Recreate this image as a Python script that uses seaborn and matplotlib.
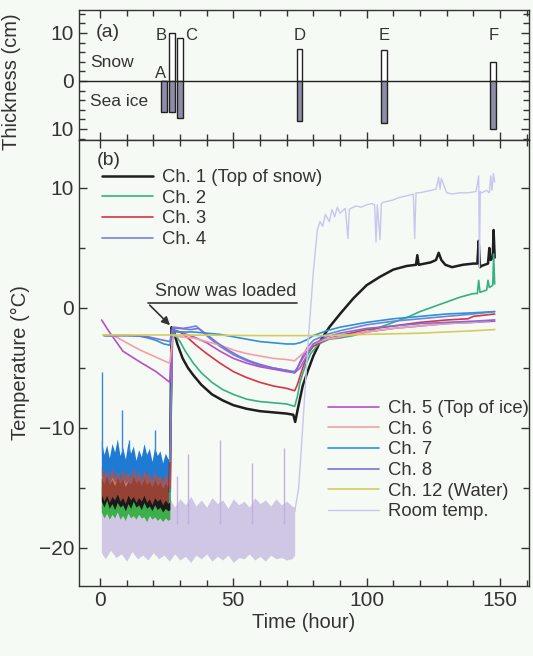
import numpy as np
import pandas as pd
import matplotlib
matplotlib.use('Agg')
import matplotlib.pyplot as plt
from matplotlib.ticker import MultipleLocator, FixedLocator
import seaborn as sns

# ---------------- data ----------------
# (a) snow / sea ice thickness at sampling times
site_names = ['A', 'B', 'C', 'D', 'E', 'F']
site_time = [24.0, 27.0, 30.0, 74.8, 106.5, 147.5]
snow_cm = [0.0, 10.0, 8.9, 6.7, 6.5, 4.0]
ice_cm = [6.4, 6.4, 7.8, 8.4, 8.7, 10.0]
site_label_x = [22.6, 23.0, 34.0, 74.8, 106.5, 147.5]
site_label_y = [1.6, 9.4, 9.4, 9.4, 9.4, 9.4]

# (b) temperatures (hour, degC)
ch1_t = [26.2, 26.8, 27.5, 29, 31, 33, 35, 38, 42, 46, 50, 55, 60, 65, 70, 72.5, 73.2, 74, 76,
         78, 80, 83, 86, 90, 95, 100, 105, 110, 115, 118.5, 119, 119.5, 124, 126, 127, 128,
         129.5, 132, 136, 140, 141.5, 142, 142.5, 143, 145.5, 146, 146.5, 147.3, 147.6, 148]
ch1_v = [-15.3, -1.6, -1.8, -3.0, -4.2, -5.0, -5.6, -6.4, -7.2, -7.7, -8.1, -8.4, -8.6, -8.7,
         -8.8, -8.9, -9.5, -8.6, -6.5, -5.2, -4.0, -2.6, -1.6, -0.5, 0.8, 1.9, 2.6, 3.2, 3.5,
         3.6, 4.4, 3.6, 3.8, 4.0, 4.6, 4.0, 3.6, 3.4, 3.6, 3.7, 3.7, 5.6, 3.4, 3.5, 3.7, 5.0,
         4.0, 4.2, 6.5, 4.2]
ch2_t = [26.2, 27.2, 28, 30, 32, 35, 38, 42, 46, 50, 55, 60, 65, 70, 73, 74, 75, 77, 79, 82,
         86, 90, 95, 100, 105, 110, 115, 120, 125, 130, 135, 140, 141.5, 142, 142.5, 145,
         145.5, 146, 147.3, 147.6, 148]
ch2_v = [-16.2, -2.0, -2.2, -2.8, -3.6, -4.6, -5.4, -6.2, -6.8, -7.2, -7.6, -7.8, -7.9, -8.0,
         -8.2, -7.4, -6.2, -4.8, -3.8, -3.0, -2.6, -2.5, -2.3, -2.0, -1.6, -1.2, -0.8, -0.3,
         0.1, 0.5, 0.9, 1.2, 1.2, 2.3, 1.3, 1.5, 2.3, 1.7, 1.9, 4.5, 2.0]
ch3_t = [26.2, 27.2, 28, 30, 33, 36, 40, 45, 50, 55, 60, 65, 70, 73, 74, 76, 78, 80, 85, 90,
         100, 110, 120, 130, 138, 140, 148]
ch3_v = [-15.0, -1.8, -1.9, -2.0, -2.5, -3.1, -3.8, -4.6, -5.3, -5.8, -6.2, -6.5, -6.7, -6.9,
         -6.4, -5.0, -3.8, -3.2, -2.6, -2.3, -1.8, -1.5, -1.2, -1.0, -0.9, -0.7, -0.5]
ch4_t = [26.2, 27.2, 28, 31, 34, 36, 38, 41, 45, 50, 55, 60, 65, 70, 73, 74, 76, 78, 80, 85,
         90, 100, 110, 120, 130, 140, 148]
ch4_v = [-12.8, -1.6, -1.6, -1.7, -1.6, -1.5, -1.9, -2.5, -3.2, -3.9, -4.4, -4.8, -5.0, -5.2,
         -5.3, -5.0, -4.0, -3.2, -2.7, -2.2, -1.9, -1.4, -1.1, -0.9, -0.7, -0.5, -0.3]
ch5_t = [0.6, 3.8, 8.6, 15, 21, 26.2, 27.3, 30, 35, 40, 45, 50, 55, 60, 65, 70, 73, 74, 76,
         78, 80, 85, 90, 100, 110, 120, 130, 140, 148]
ch5_v = [-1.0, -2.1, -3.6, -4.5, -5.3, -6.2, -1.8, -2.0, -2.4, -2.9, -3.6, -4.2, -4.6, -4.9,
         -5.1, -5.3, -5.4, -5.0, -4.2, -3.5, -3.0, -2.6, -2.4, -2.0, -1.7, -1.5, -1.3, -1.2, -1.1]
ch6_t = [2, 6, 10, 15, 20, 24, 26.2, 27.3, 30, 35, 40, 45, 50, 55, 60, 65, 70, 73, 75, 78,
         80, 85, 90, 100, 110, 120, 130, 140, 148]
ch6_v = [-2.3, -2.4, -2.9, -3.5, -4.0, -4.4, -4.6, -2.3, -2.4, -2.5, -2.8, -3.1, -3.5, -3.8,
         -4.0, -4.2, -4.3, -4.4, -4.0, -3.4, -3.0, -2.6, -2.4, -2.0, -1.7, -1.5, -1.3, -1.2, -1.0]
ch7_t = [1.5, 10, 15, 18, 21, 24, 26.2, 27.3, 30, 35, 40, 45, 50, 55, 60, 65, 70, 73, 75, 78,
         80, 85, 90, 100, 110, 120, 130, 140, 148]
ch7_v = [-2.3, -2.3, -2.35, -2.5, -2.7, -3.0, -3.1, -2.0, -2.0, -2.0, -2.1, -2.2, -2.4, -2.6,
         -2.8, -2.9, -3.0, -3.0, -2.9, -2.6, -2.3, -1.9, -1.6, -1.2, -0.9, -0.7, -0.5, -0.4, -0.3]
ch8_t = [1.5, 12, 18, 22, 26.2, 27.3, 30, 34, 37, 40, 44, 48, 52, 56, 60, 65, 70, 73, 75, 78,
         80, 85, 90, 100, 110, 120, 130, 140, 148]
ch8_v = [-2.3, -2.3, -2.4, -2.6, -2.8, -1.7, -1.7, -1.8, -1.7, -2.2, -2.9, -3.5, -4.0, -4.4,
         -4.7, -5.0, -5.2, -5.4, -5.0, -3.8, -3.0, -2.4, -2.1, -1.7, -1.5, -1.3, -1.2, -1.1, -1.0]
ch12_t = [1, 30, 60, 73, 78, 85, 100, 120, 140, 148]
ch12_v = [-2.25, -2.25, -2.3, -2.3, -2.3, -2.3, -2.2, -2.1, -1.9, -1.8]
room_t = [73, 74.5, 76, 78, 80, 81.5, 82.5, 83.5, 84.5, 86, 87, 88, 89, 90, 92, 93, 93.5, 94,
          96, 98, 100, 102, 103, 103.5, 104, 105, 105.5, 106, 108, 110, 112, 114, 116, 117.5,
          118, 118.5, 120, 122, 124, 126, 127, 127.5, 128, 130, 132, 135, 138, 141, 142, 142.3,
          142.6, 143, 145, 146, 146.5, 147, 147.5, 148]
room_v = [-17, -15, -10, -3, 3, 6.5, 7.2, 6.8, 7.8, 7.2, 8.2, 7.6, 8.4, 7.9, 8.3, 5.8, 8.2,
          8.3, 8.5, 8.4, 8.6, 8.7, 8.6, 5.5, 8.6, 5.7, 8.7, 8.8, 8.9, 9.0, 9.2, 9.3, 9.4, 9.5,
          5.8, 9.6, 9.6, 9.7, 9.8, 9.9, 10.9, 9.9, 10.8, 9.6, 9.5, 9.6, 9.6, 9.7, 11.0, 3.4,
          9.7, 9.6, 9.8, 9.6, 11.0, 9.8, 11.2, 10.5]

# noisy air readings before snow loading: envelopes (hour, upper, lower)
band_t = [0.5, 1.5, 2.5, 3.5, 4.5, 5.5, 6.5, 7.5, 8.5, 9.5, 10.5, 11.5, 12.5, 13.5,
          14.5, 15.5, 16.5, 17.5, 18.5, 19.5, 20.5, 21.5, 22.5, 23.5, 24.5, 25.5, 26.2]
blue_hi = [-11.0, -12.2, -11.4, -12.5, -11.3, -12.0, -10.9, -12.3, -11.6, -12.6, -11.2, -12.1,
           -11.5, -12.7, -11.8, -12.4, -11.3, -12.2, -11.7, -12.8, -11.6, -12.3, -11.9, -12.9,
           -12.1, -12.6, -12.3]
blue_lo = [-14.0, -14.6, -14.2, -14.8, -14.1, -14.5, -14.3, -14.9, -14.2, -14.6, -14.4, -14.8,
           -14.1, -14.7, -14.5, -14.9, -14.3, -14.7, -14.4, -15.0, -14.5, -14.8, -14.6, -15.0,
           -14.7, -14.9, -14.7]
black_hi = [-14.1, -14.6, -14.0, -14.7, -14.3, -14.8, -14.1, -14.6, -14.2, -14.9, -14.4, -14.7,
            -14.0, -14.6, -14.3, -14.8, -14.2, -14.7, -14.4, -14.9, -14.3, -14.8, -14.5, -15.0,
            -14.6, -14.9, -14.7]
black_lo = [-16.1, -16.6, -16.0, -16.7, -16.3, -16.8, -16.2, -16.6, -16.4, -16.9, -16.3, -16.7,
            -16.1, -16.6, -16.4, -16.8, -16.2, -16.7, -16.5, -16.9, -16.4, -16.8, -16.6, -17.0,
            -16.7, -16.9, -16.8]
red_hi = [-13.2, -14.0, -13.5, -14.2, -13.3, -14.1, -13.6, -14.3, -13.4, -14.0, -13.7, -14.2,
          -13.3, -14.1, -13.6, -14.3, -13.5, -14.0, -13.8, -14.4, -13.6, -14.2, -13.9, -14.5,
          -13.8, -14.3, -14.1]
red_lo = [-15.5, -16.1, -15.6, -16.2, -15.7, -16.0, -15.5, -16.1, -15.8, -16.3, -15.6, -16.0,
          -15.7, -16.2, -15.8, -16.1, -15.6, -16.2, -15.9, -16.4, -15.8, -16.1, -15.9, -16.4,
          -16.0, -16.3, -16.1]
green_hi = [-14.9, -15.4, -15.0, -15.6, -15.2, -15.7, -15.0, -15.5, -15.3, -15.8, -15.1, -15.6,
            -15.3, -15.7, -15.2, -15.6, -15.4, -15.8, -15.3, -15.7, -15.5, -15.9, -15.4, -15.8,
            -15.6, -15.9, -15.7]
green_lo = [-17.0, -17.5, -17.1, -17.6, -17.2, -17.5, -17.0, -17.6, -17.3, -17.7, -17.1, -17.5,
            -17.3, -17.6, -17.2, -17.5, -17.4, -17.8, -17.3, -17.6, -17.4, -17.7, -17.5, -17.8,
            -17.5, -17.7, -17.6]
room_band_t = [0.5, 2, 4, 6, 8, 10, 12, 14, 16, 18, 20, 22, 24, 26, 28, 30, 32, 34, 36, 38,
               40, 42, 44, 46, 48, 50, 52, 54, 56, 58, 60, 62, 64, 66, 68, 70, 72, 73]
room_hi = [-16.4, -17.1, -16.3, -16.9, -16.2, -17.0, -16.5, -16.8, -16.1, -16.9, -16.4, -17.0,
           -16.2, -15.8, -16.6, -15.9, -16.4, -15.7, -16.5, -16.0, -16.6, -15.8, -16.3, -16.0,
           -16.7, -15.9, -16.4, -16.1, -16.6, -15.8, -16.3, -16.0, -16.5, -15.9, -16.4, -16.1,
           -16.5, -16.6]
room_lo = [-20.4, -20.9, -20.2, -20.8, -20.5, -21.1, -20.3, -20.9, -20.6, -21.0, -20.4, -20.9,
           -20.6, -21.1, -20.5, -21.0, -20.7, -21.2, -20.6, -20.9, -20.5, -21.1, -20.7, -21.0,
           -20.6, -21.2, -20.8, -20.9, -20.5, -21.0, -20.7, -21.1, -20.6, -20.9, -20.8, -21.0,
           -20.9, -20.6]
blue_spike_t = [0.6, 8.2, 11.0, 20.6]
blue_spike_v = [-5.3, -8.5, -11.0, -10.2]
room_spike_t = [29, 33, 45, 57, 69]
room_spike_v = [-14.0, -12.2, -11.0, -12.9, -11.7]

# ---------------- style ----------------
sns.set_theme(style='ticks')
plt.rcParams['font.family'] = ['Liberation Sans', 'DejaVu Sans']
plt.rcParams['axes.linewidth'] = 1.0
bg = '#f6faf4'
ink = '#333333'

fig = plt.figure(figsize=(5.33, 6.56), dpi=100, facecolor=bg)
ax1 = fig.add_axes([0.1482, 0.7866, 0.8443, 0.1982], facecolor=bg)
ax2 = fig.add_axes([0.1482, 0.1067, 0.8443, 0.6799], facecolor=bg)

xlim = (-7.875, 160.875)

# ---------------- (a) thickness ----------------
ax1.bar(site_time, snow_cm, width=2.2, bottom=0, color='white', edgecolor='#222222', linewidth=1.0, zorder=3)
ax1.bar(site_time, [-v for v in ice_cm], width=2.2, bottom=0, color='#8d8da8', edgecolor='#222222', linewidth=1.0, zorder=3)
ax1.axhline(0, color='#222222', lw=1.0, zorder=2)
for name, lx, ly in zip(site_names, site_label_x, site_label_y):
    ax1.text(lx, ly, name, ha='center', va='center', fontsize=12, color=ink)
ax1.text(-1.5, 10.2, '(a)', ha='left', va='center', fontsize=14, color=ink)
ax1.text(-3.7, 3.8, 'Snow', ha='left', va='center', fontsize=12.5, color=ink)
ax1.text(-3.7, -4.3, 'Sea ice', ha='left', va='center', fontsize=12.5, color=ink)
ax1.set_xlim(*xlim)
ax1.set_ylim(-12.29, 14.79)
ax1.yaxis.set_major_locator(FixedLocator([-10, 0, 10]))
ax1.set_yticklabels(['10', '0', '10'])
ax1.yaxis.set_minor_locator(MultipleLocator(2))
ax1.xaxis.set_major_locator(MultipleLocator(50))
ax1.xaxis.set_minor_locator(MultipleLocator(10))
ax1.tick_params(axis='x', labelbottom=False)
ax1.set_ylabel('Thickness (cm)', fontsize=14.5, color=ink)
ax1.yaxis.set_label_coords(-0.128, 0.45)

# ---------------- (b) temperature ----------------
ax2.fill_between(room_band_t, room_lo, room_hi, color='#c0b2e0', alpha=0.7, lw=0, zorder=1)
ax2.vlines(room_spike_t, -18, room_spike_v, color='#c0b0e0', lw=1.0, zorder=1)
ax2.fill_between(band_t, green_lo, green_hi, color='#3cae4a', lw=0, zorder=2)
ax2.fill_between(band_t, blue_lo, blue_hi, color='#1f7ad4', lw=0, zorder=2)
ax2.fill_between(band_t, black_lo, black_hi, color='#1a1a1a', lw=0, zorder=3)
ax2.fill_between(band_t, red_lo, red_hi, color='#c0503e', alpha=0.75, lw=0, zorder=3)
ax2.vlines(blue_spike_t, -12, blue_spike_v, color='#3a86d8', lw=1.0, zorder=2)

series = [
    ('Ch. 1 (Top of snow)', ch1_t, ch1_v, '#1e1e1e', 1.8),
    ('Ch. 2', ch2_t, ch2_v, '#34b083', 1.2),
    ('Ch. 3', ch3_t, ch3_v, '#d8334a', 1.2),
    ('Ch. 4', ch4_t, ch4_v, '#6b86e0', 1.2),
    ('Ch. 5 (Top of ice)', ch5_t, ch5_v, '#b84fc8', 1.2),
    ('Ch. 6', ch6_t, ch6_v, '#f2a0a6', 1.2),
    ('Ch. 7', ch7_t, ch7_v, '#2e92d4', 1.2),
    ('Ch. 8', ch8_t, ch8_v, '#7c70d8', 1.2),
    ('Ch. 12 (Water)', ch12_t, ch12_v, '#d4cc5c', 1.2),
    ('Room temp.', room_t, room_v, '#c9c6ee', 1.0),
]
handles = []
for label, t, v, col, lw in series:
    df = pd.DataFrame({'Time': t, 'Temp': v})
    sns.lineplot(data=df, x='Time', y='Temp', ax=ax2, color=col, lw=lw,
                 label=label, estimator=None, sort=False, zorder=4)
    handles.append(ax2.get_lines()[-1])

leg_kw = dict(loc='upper left', frameon=False, fontsize=13.3, handlelength=2.75,
              handletextpad=0.5, labelspacing=0.2, borderpad=0, borderaxespad=0)
leg1 = ax2.legend(handles=handles[:4], bbox_to_anchor=(0.051, 0.935), **leg_kw)
for txt in leg1.get_texts():
    txt.set_color(ink)
ax2.add_artist(leg1)
leg2 = ax2.legend(handles=handles[4:], bbox_to_anchor=(0.553, 0.417), **leg_kw)
for txt in leg2.get_texts():
    txt.set_color(ink)

# annotation: snow loading
ax2.text(47.0, 0.7, 'Snow was loaded', ha='center', va='bottom', fontsize=13, color=ink)
ax2.plot([17.9, 73.9], [0.4, 0.4], color=ink, lw=1.2)
ax2.annotate('', xy=(27.0, -1.6), xytext=(17.9, 0.4),
             arrowprops=dict(arrowstyle='-|>', color=ink, lw=1.2, mutation_scale=12))
ax2.text(-1.3, 12.3, '(b)', ha='left', va='center', fontsize=14, color=ink)

ax2.set_xlim(*xlim)
ax2.set_ylim(-23.17, 14.0)
ax2.xaxis.set_major_locator(MultipleLocator(50))
ax2.xaxis.set_minor_locator(MultipleLocator(10))
ax2.yaxis.set_major_locator(MultipleLocator(10))
ax2.yaxis.set_minor_locator(MultipleLocator(5))
ax2.set_xlabel('Time (hour)', fontsize=14.5, color=ink, labelpad=2)
ax2.set_ylabel('Temperature (\u00b0C)', fontsize=14.5, color=ink)
ax2.yaxis.set_label_coords(-0.108, 0.5)

for ax in (ax1, ax2):
    ax.tick_params(which='both', direction='in', top=True, right=True,
                   labelsize=15, labelcolor=ink, color=ink)
    ax.tick_params(which='major', length=6, width=1.0)
    ax.tick_params(which='minor', length=4, width=1.0)
    for s in ax.spines.values():
        s.set_color(ink)

fig.savefig('out.png', dpi=100, facecolor=bg)
